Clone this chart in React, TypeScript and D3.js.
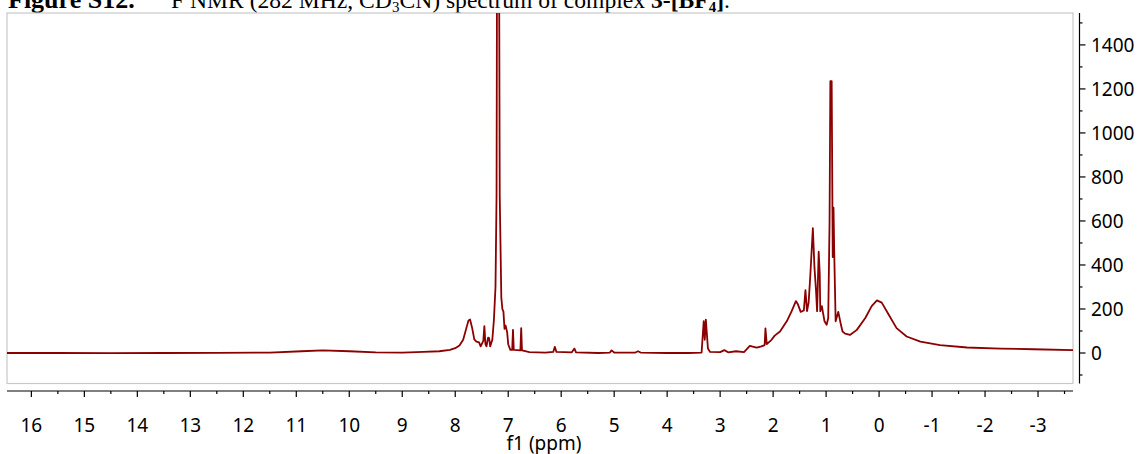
import React from "react";
import * as d3 from "d3";

const ppm: number[] = [
  16.46, 15.5, 14.5, 13.5, 12.5, 11.5, 10.9, 10.5, 10.0, 9.5, 9.0, 8.6, 8.3, 8.1, 8.0, 7.92, 7.85, 7.79, 7.75,
  7.72, 7.68, 7.64, 7.6, 7.55, 7.52, 7.47, 7.45, 7.43, 7.41, 7.38, 7.36, 7.34, 7.3, 7.27, 7.24, 7.22, 7.205,
  7.18, 7.16, 7.13, 7.11, 7.09, 7.07, 7.05, 7.02, 7.0, 6.96, 6.925, 6.91, 6.895, 6.77, 6.755, 6.74, 6.6, 6.3,
  6.15, 6.12, 6.09, 5.8, 5.75, 5.72, 5.3, 5.08, 5.05, 5.0, 4.6, 4.55, 4.5, 4.0, 3.6, 3.35, 3.31, 3.29, 3.27,
  3.23, 3.19, 3.0, 2.92, 2.85, 2.7, 2.55, 2.44, 2.31, 2.22, 2.16, 2.145, 2.12, 2.03, 1.97, 1.87, 1.74, 1.65,
  1.57, 1.53, 1.48, 1.42, 1.39, 1.36, 1.33, 1.3, 1.25, 1.22, 1.19, 1.17, 1.14, 1.12, 1.11, 1.08, 1.03, 0.99,
  0.96, 0.935, 0.92, 0.895, 0.875, 0.86, 0.845, 0.82, 0.77, 0.72, 0.69, 0.64, 0.55, 0.42, 0.26, 0.14, 0.04,
  -0.05, -0.18, -0.33, -0.52, -0.78, -1.15, -1.66, -2.29, -2.91, -3.66,
];

const intensity: number[] = [
  0, 0, -1, 0, 1, 2, 8, 12, 8, 3, 2, 5, 8, 14, 22, 34, 60, 113, 148,
  152, 113, 62, 52, 48, 30, 55, 122, 40, 30, 70, 68, 30, 60, 150, 300, 714, 2500,
  2500, 714, 252, 200, 188, 110, 125, 95, 40, 14, 14, 105, 14, 12, 113, 12, 4, 2,
  5, 28, 5, 3, 20, 3, 0, 2, 12, 2, 2, 8, 2, 0, 0, 2, 145, 60, 152,
  20, 5, 4, 13, 3, 8, 4, 32, 24, 30, 36, 112, 40, 60, 79, 98, 145, 190,
  236, 220, 187, 193, 286, 190, 229, 344, 567, 390, 283, 190, 460, 360, 190, 213, 144, 128,
  159, 590, 1235, 1235, 436, 660, 436, 144, 187, 128, 98, 88, 82, 105, 159, 213, 239,
  229, 175, 113, 75, 52, 36, 25, 20, 17, 13,
];

const xTicks: number[] = [16, 15, 14, 13, 12, 11, 10, 9, 8, 7, 6, 5, 4, 3, 2, 1, 0, -1, -2, -3];
const xMinor: number[] = [15.5, 14.5, 13.5, 12.5, 11.5, 10.5, 9.5, 8.5, 7.5, 6.5, 5.5, 4.5, 3.5, 2.5, 1.5, 0.5, -0.5, -1.5, -2.5, -3.5];
const yTicks: number[] = [0, 200, 400, 600, 800, 1000, 1200, 1400];
const yMinor: number[] = [-100, 100, 300, 500, 700, 900, 1100, 1300, 1500];

const W = 1141;
const H = 454;
const L = 7, R = 1073, T = 13, B = 383.5;

export default function App() {
  const x = d3.scaleLinear().domain([16.46, -3.66]).range([L, R]);
  const y = d3.scaleLinear().domain([-138.6, 1545]).range([B, T]);
  const pts = ppm.map((p, i) => [p, intensity[i]] as [number, number]);
  const line = d3.line<[number, number]>().x((d) => x(d[0])).y((d) => y(d[1]));
  const axY = 391;
  const axX = 1079.5;
  const tickFont = "'Noto Sans', sans-serif";
  return (
    <svg width={W} height={H} style={{ position: "absolute", left: 0, top: 0, background: "#fff" }}>
      <defs>
        <clipPath id="plotclip">
          <rect x={L} y={T} width={R - L} height={B - T} />
        </clipPath>
      </defs>
      <text x={8} y={8} fontFamily="'Liberation Serif', serif" fontSize={26} fill="#000">
        <tspan fontWeight="bold">Figure S12.</tspan>
      </text>
      <text x={156} y={8} fontFamily="'Liberation Serif', serif" fontSize={23.6} fill="#000">
        <tspan fontSize={15} dy={-10}>19</tspan>
        <tspan dy={10}>F NMR (282 MHz, CD</tspan>
        <tspan fontSize={15} dy={4}>3</tspan>
        <tspan dy={-4}>CN) spectrum of complex </tspan>
        <tspan fontWeight="bold">3-[BF</tspan>
        <tspan fontWeight="bold" fontSize={15} dy={4}>4</tspan>
        <tspan fontWeight="bold" dy={-4}>]</tspan>
        <tspan>.</tspan>
      </text>
      <rect x={L} y={T} width={R - L} height={B - T} fill="none" stroke="#c8c8c8" strokeWidth={1.2} />
      <path d={line(pts) || ""} fill="none" stroke="#8b0000" strokeWidth={1.8} clipPath="url(#plotclip)" strokeLinejoin="round" />
      {/* x axis */}
      <line x1={L} x2={R} y1={axY} y2={axY} stroke="#000" strokeWidth={1.2} />
      {xTicks.map((t) => (
        <g key={"xt" + t}>
          <line x1={x(t)} x2={x(t)} y1={axY} y2={axY + 6} stroke="#000" strokeWidth={1.2} />
          <text x={x(t)} y={432} textAnchor="middle" fontFamily={tickFont} fontSize={19} fill="#000">
            {String(t)}
          </text>
        </g>
      ))}
      {xMinor.map((t) => (
        <line key={"xm" + t} x1={x(t)} x2={x(t)} y1={axY} y2={axY + 3} stroke="#000" strokeWidth={1.2} />
      ))}
      <text x={544} y={450} textAnchor="middle" fontFamily={tickFont} fontSize={19} fill="#000">
        f1 (ppm)
      </text>
      {/* y axis */}
      <line x1={axX} x2={axX} y1={T} y2={B} stroke="#000" strokeWidth={1.2} />
      {yTicks.map((t) => (
        <g key={"yt" + t}>
          <line x1={axX} x2={axX + 6} y1={y(t)} y2={y(t)} stroke="#000" strokeWidth={1.2} />
          <text x={1091} y={y(t) + 7} fontFamily={tickFont} fontSize={19} fill="#000">
            {String(t)}
          </text>
        </g>
      ))}
      {yMinor.map((t) => (
        <line key={"ym" + t} x1={axX} x2={axX + 3} y1={y(t)} y2={y(t)} stroke="#000" strokeWidth={1.2} />
      ))}
    </svg>
  );
}
